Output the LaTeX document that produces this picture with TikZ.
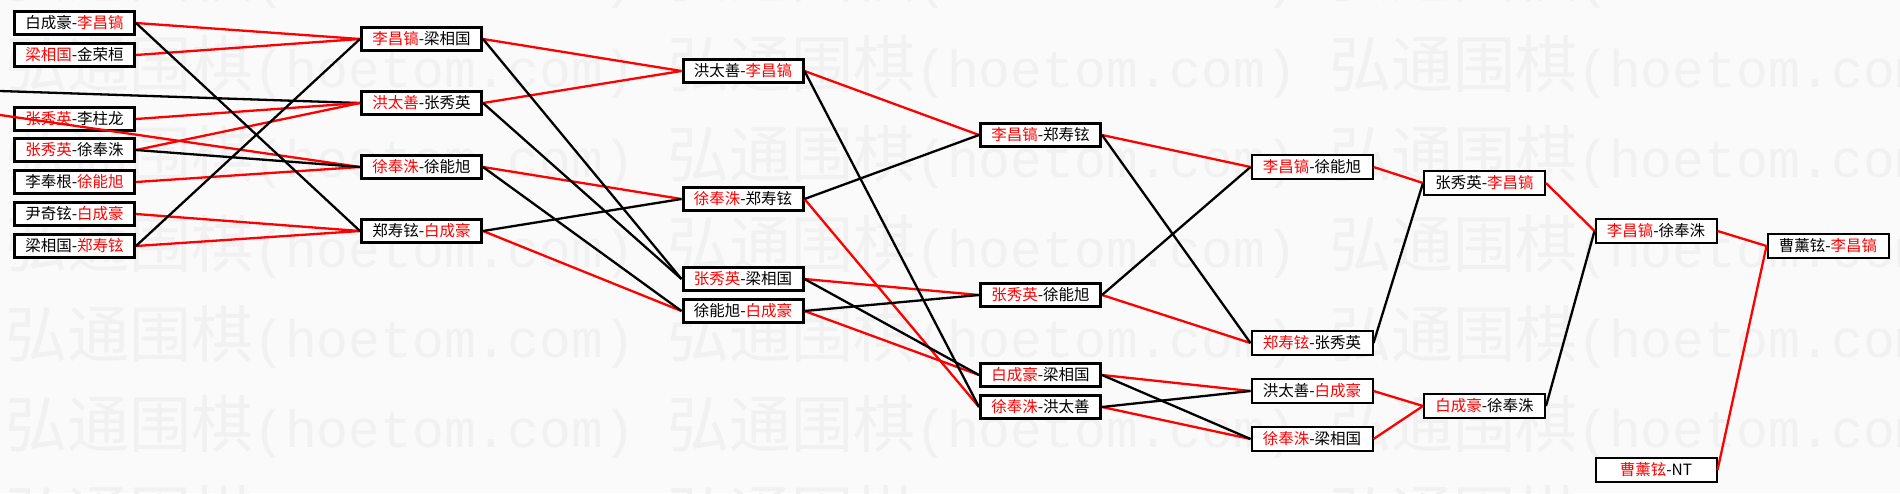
\documentclass[tikz,border=0pt]{standalone}
\usepackage{fontspec}
\setmainfont{Noto Sans CJK SC}
\newfontfamily\marklatin{Liberation Mono}
\usepackage{tikz}
\usetikzlibrary{positioning}
\definecolor{markgray}{RGB}{241,241,241}
\definecolor{paper}{RGB}{250,250,250}
\newcommand{\rd}[1]{\textcolor{red}{#1}}

\begin{document}
\begin{tikzpicture}[x=1pt,y=-1pt]
  \tikzset{
    box/.style={draw, fill=white, line width=3pt, minimum width=120pt,
      minimum height=23pt, inner sep=0pt, font=\fontsize{15.5}{15.5}\selectfont},
    thinbox/.style={box, line width=2pt, minimum width=121pt, minimum height=24pt},
    win/.style={red, line width=2.3pt},
    lose/.style={black, line width=2.3pt},
  }
  \clip (0,0) rectangle (1900,493);
  \fill[paper] (0,0) rectangle (1900,493);

  % watermark
  \foreach \y in {-23,67,...,517}
    \foreach \x in {5,667,1329}
      \node[anchor=west, inner sep=0pt, text=markgray,
        font=\fontsize{62}{62}\selectfont] at (\x,\y)
        {弘通围棋{\marklatin\fontsize{53}{53}\selectfont(hoetom.com)}};

  % round 1
  \node[box] (a1) at (74.5,23)  {白成豪-\rd{李昌镐}};
  \node[box] (a2) at (74.5,55)  {\rd{梁相国}-金荣桓};
  \node[box] (a3) at (74.5,119) {\rd{张秀英}-李柱龙};
  \node[box] (a4) at (74.5,150) {\rd{张秀英}-徐奉洙};
  \node[box] (a5) at (74.5,182) {李奉根-\rd{徐能旭}};
  \node[box] (a6) at (74.5,214) {尹奇铉-\rd{白成豪}};
  \node[box] (a7) at (74.5,246) {梁相国-\rd{郑寿铉}};
  \coordinate (in1) at (0,91);
  \coordinate (in2) at (0,115);

  % round 2
  \node[box] (b1) at (421.5,39)  {\rd{李昌镐}-梁相国};
  \node[box] (b2) at (421.5,103) {\rd{洪太善}-张秀英};
  \node[box] (b3) at (421.5,167) {\rd{徐奉洙}-徐能旭};
  \node[box] (b4) at (421.5,231) {郑寿铉-\rd{白成豪}};

  % round 3
  \node[box] (c1) at (743,71)  {洪太善-\rd{李昌镐}};
  \node[box] (c2) at (743,199) {\rd{徐奉洙}-郑寿铉};
  \node[box] (c3) at (743,279) {\rd{张秀英}-梁相国};
  \node[box] (c4) at (743,311) {徐能旭-\rd{白成豪}};

  % round 4
  \node[box] (d1) at (1040.5,135) {\rd{李昌镐}-郑寿铉};
  \node[box] (d2) at (1040.5,295) {\rd{张秀英}-徐能旭};
  \node[box] (d3) at (1040.5,375) {\rd{白成豪}-梁相国};
  \node[box] (d4) at (1040.5,407) {\rd{徐奉洙}-洪太善};

  % round 5 and on
  \node[thinbox] (e1) at (1312,167) {\rd{李昌镐}-徐能旭};
  \node[thinbox] (e2) at (1312,343) {\rd{郑寿铉}-张秀英};
  \node[thinbox] (e3) at (1312,391) {洪太善-\rd{白成豪}};
  \node[thinbox] (e4) at (1312,439) {\rd{徐奉洙}-梁相国};

  \node[thinbox] (f1) at (1484.5,183) {张秀英-\rd{李昌镐}};
  \node[thinbox] (f2) at (1484.5,406) {\rd{白成豪}-徐奉洙};

  \node[thinbox] (g1) at (1656,231) {\rd{李昌镐}-徐奉洙};
  \node[thinbox] (g2) at (1656,470) {\rd{曹薰铉}-NT};

  \node[thinbox] (h1) at (1828,246) {曹薰铉-\rd{李昌镐}};

  % connectors
  \draw[lose] (in1) -- (b2.west);
  \draw[win] (in2) -- (b3.west);
  \foreach \s/\t in {a1/b1,a2/b1,a3/b2,a4/b2,a5/b3,a6/b4,a7/b4,
      b1/c1,b2/c1,b3/c2,b4/c4,c1/d1,c2/d4,c3/d2,c4/d3,
      d1/e1,d2/e2,d3/e3,d4/e4,e1/f1,e3/f2,e4/f2,f1/g1,g1/h1,g2/h1}
    \draw[win] (\s.east) -- (\t.west);
  \foreach \s/\t in {a1/b4,a4/b3,a7/b1,b1/c3,b2/c3,b3/c4,b4/c2,
      c1/d4,c2/d1,c3/d3,c4/d2,d1/e2,d2/e1,d3/e4,d4/e3,e2/f1,f2/g1}
    \draw[lose] (\s.east) -- (\t.west);
\end{tikzpicture}
\end{document}
